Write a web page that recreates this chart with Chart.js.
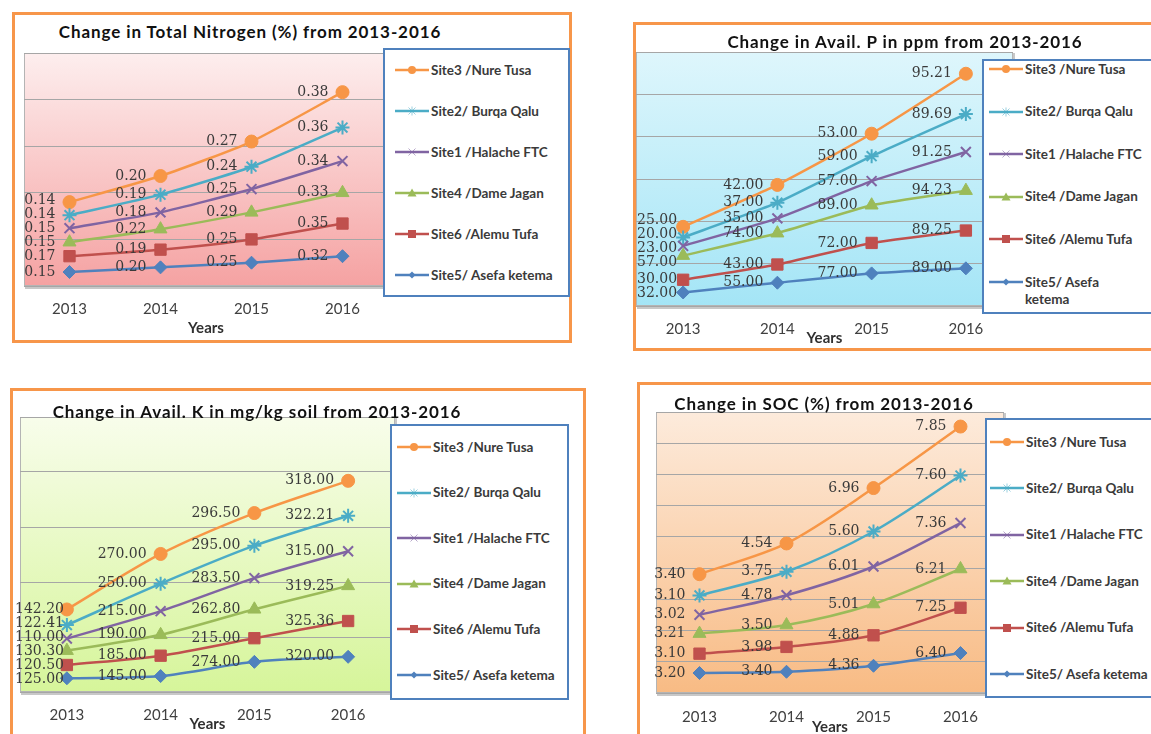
<!DOCTYPE html>
<html lang="en">
<head>
<meta charset="UTF-8" />
<title>Soil nutrient change 2013-2016</title>
<script src="https://cdn.jsdelivr.net/npm/chart.js@4.4.0/dist/chart.umd.min.js"></script>
<style>
  *{box-sizing:border-box;margin:0;padding:0}
  html,body{width:1151px;height:734px;overflow:hidden;background:#fff}
  body{position:relative;font-family:Lato,'Open Sans',sans-serif}
  .frame{position:absolute;border:3px solid #F7964A;z-index:1}
  .plotwrap{position:absolute;z-index:2}
  .title{position:absolute;z-index:4;font:bold 17px Lato,sans-serif;letter-spacing:.9px;color:#111;white-space:nowrap;transform:translate(-50%,-50%)}
  .legend{position:absolute;z-index:3;background:#fff;border:2px solid #4F81BD}
  .item{position:absolute;display:flex;align-items:flex-start;white-space:nowrap;font:bold 13.5px Lato,sans-serif;color:#3a3a3a;line-height:17px}
  .item svg{flex:0 0 auto;margin-top:2.5px;margin-right:2px}
</style>
</head>
<body>
<script>
/* data (dataset order = stacking order, bottom first) */
const years = ['2013','2014','2015','2016'];
const sites = ['Site5/ Asefa ketema','Site6 /Alemu Tufa','Site4 /Dame Jagan','Site1 /Halache FTC','Site2/ Burqa Qalu','Site3 /Nure Tusa'];

const nitrogen = [
  [0.15,0.20,0.25,0.32],
  [0.17,0.19,0.25,0.35],
  [0.15,0.22,0.29,0.33],
  [0.15,0.18,0.25,0.34],
  [0.14,0.19,0.24,0.36],
  [0.14,0.20,0.27,0.38]
];
const phosphorus = [
  [32.00,55.00,77.00,89.00],
  [30.00,43.00,72.00,89.25],
  [57.00,74.00,89.00,94.23],
  [23.00,35.00,57.00,91.25],
  [20.00,37.00,59.00,89.69],
  [25.00,42.00,53.00,95.21]
];
const potassium = [
  [125.00,145.00,274.00,320.00],
  [120.50,185.00,215.00,325.36],
  [130.30,190.00,262.80,319.25],
  [110.00,215.00,283.50,315.00],
  [122.41,250.00,295.00,322.21],
  [142.20,270.00,296.50,318.00]
];
const soc = [
  [3.20,3.40,4.36,6.40],
  [3.10,3.98,4.88,7.25],
  [3.21,3.50,5.01,6.21],
  [3.02,4.78,6.01,7.36],
  [3.10,3.75,5.60,7.60],
  [3.40,4.54,6.96,7.85]
];

const colors = ['#4F81BD','#C0504D','#9BBB59','#8064A2','#4BACC6','#F79646'];
const styles = ['rectRot','rect','triangle','crossRot','star','circle'];
const radii  = [6.5,8,7.5,7,7,6.5];

/* plot background gradient + frame */
const bgPlugin = {
  id:'bg',
  beforeDraw(chart,args,o){
    const {ctx,chartArea:a} = chart;
    const g = ctx.createLinearGradient(0,a.top,0,a.bottom);
    g.addColorStop(0,o.top); g.addColorStop(1,o.bottom);
    ctx.save();
    ctx.fillStyle = '#c8c8c8';
    ctx.fillRect(a.left+1,a.top+1,a.right-a.left+1,a.bottom-a.top+2);
    ctx.fillStyle = g;
    ctx.fillRect(a.left,a.top,a.right-a.left,a.bottom-a.top);
    ctx.strokeStyle = '#b4b4b4'; ctx.lineWidth = 1;
    ctx.strokeRect(a.left+.5,a.top+.5,a.right-a.left-1,a.bottom-a.top-1);
    ctx.restore();
  }
};

/* value labels left of each point, spread apart when they collide */
const labelPlugin = {
  id:'dl',
  afterDatasetsDraw(chart,args,o){
    const {ctx} = chart;
    ctx.save();
    ctx.font = '14px "DejaVu Serif", serif';
    ctx.fillStyle = '#3a3a3a';
    ctx.textAlign = 'right';
    ctx.textBaseline = 'middle';
    const cols = [];
    chart.data.datasets.forEach((ds,di)=>{
      chart.getDatasetMeta(di).data.forEach((pt,i)=>{
        (cols[i] = cols[i] || []).push({x:pt.x, y:pt.y, t:ds.data[i].toFixed(2)});
      });
    });
    cols.forEach(col=>{
      col.sort((a,b)=>a.y-b.y);
      for(let k=0;k<60;k++){
        let moved=false;
        for(let i=1;i<col.length;i++){
          const d = col[i].y-col[i-1].y;
          if(d<o.gap){const s=(o.gap-d)/2;col[i].y+=s;col[i-1].y-=s;moved=true;}
        }
        if(!moved) break;
      }
      col.forEach(l=>{
        const w = ctx.measureText(l.t).width;
        const x = Math.max(l.x-14, o.minX-chart.canvas.parentNode.offsetLeft+w);
        ctx.fillText(l.t,x,l.y);
      });
    });
    ctx.restore();
  }
};

function symbol(style,color){
  let m='';
  if(style==='circle') m=`<circle cx="17" cy="6" r="4" fill="${color}"/>`;
  if(style==='rect') m=`<rect x="13" y="2" width="8" height="8" fill="${color}"/>`;
  if(style==='triangle') m=`<polygon points="17,1.5 21.5,9.5 12.5,9.5" fill="${color}"/>`;
  if(style==='rectRot') m=`<polygon points="17,2.5 20.5,6 17,9.5 13.5,6" fill="${color}"/>`;
  if(style==='crossRot') m=`<path d="M13.5,2.5L20.5,9.5M20.5,2.5L13.5,9.5" stroke="${color}" stroke-width="1" opacity=".55"/>`;
  if(style==='star') m=`<path d="M13.5,2.5L20.5,9.5M20.5,2.5L13.5,9.5M17,1.5V10.5" stroke="${color}" stroke-width="1" opacity=".55"/>`;
  return `<svg width="34" height="12"><line x1="0" y1="6" x2="34" y2="6" stroke="${color}" stroke-width="2.5"/>${m}</svg>`;
}

function box(cls,l,t,r,b){
  const d=document.createElement('div');d.className=cls;
  d.style.cssText=`left:${l}px;top:${t}px;width:${r-l}px;height:${b-t}px`;
  document.body.appendChild(d);return d;
}

function makeChart(c){
  box('frame',...c.frame);
  const t=document.createElement('div');t.className='title';t.textContent=c.title;
  t.style.left=c.titleAt[0]+'px';t.style.top=c.titleAt[1]+'px';document.body.appendChild(t);

  const lg=box('legend',...c.legend.box);
  for(let i=sites.length-1,n=0;i>=0;i--,n++){
    const it=document.createElement('div');it.className='item';
    it.style.left=(c.legend.x-c.legend.box[0]-2)+'px';
    it.style.top=(c.legend.y0+n*c.legend.dy-c.legend.box[1]-2-8.5)+'px';
    const label = (i===0 && c.legend.wrapLast) ? 'Site5/ Asefa<br>ketema' : sites[i];
    it.innerHTML=symbol(styles[i],colors[i])+'<span>'+label+'</span>';
    lg.appendChild(it);
  }

  const [pl,pt,pr,pb]=c.plot, padL=20,padR=20,padT=10;
  // canvas height from the wanted tick/“Years” placement; the scale itself
  // comes out ~15px taller than the sum, so the title padding is pulled in by that much
  const xh=c.tickPad+18+18+c.yearsPad;
  const wrap=box('plotwrap',pl-padL,pt-padT,pr+padR,pb+xh);
  const cv=document.createElement('canvas');wrap.appendChild(cv);

  new Chart(cv,{
    type:'line',
    data:{labels:years,datasets:sites.map((s,i)=>({
      label:s,data:c.values[i],borderColor:colors[i],backgroundColor:colors[i],
      pointBackgroundColor:colors[i],pointBorderColor:colors[i],pointStyle:styles[i],
      pointRadius:radii[i],pointBorderWidth:(styles[i]==='star'||styles[i]==='crossRot')?2:1,
      borderWidth:2.5,tension:c.tension,fill:false,clip:false
    }))},
    options:{
      responsive:true,maintainAspectRatio:false,animation:false,
      layout:{padding:{left:padL,right:padR,top:padT,bottom:0}},
      plugins:{legend:{display:false},tooltip:{enabled:false},
        bg:{top:c.bg[0],bottom:c.bg[1]},dl:{gap:14,minX:c.minX}},
      scales:{
        x:{offset:true,grid:{display:false,drawTicks:false},border:{display:false},
          ticks:{padding:c.tickPad,color:'#404040',font:{family:'Lato',size:15}},
          title:{display:true,text:'Years',padding:{top:c.yearsPad-15,bottom:0},color:'#303030',
            font:{family:'Lato',size:15,weight:'bold'}}},
        y:{stacked:true,min:0,max:c.max,ticks:{display:false,stepSize:c.step},
          grid:{color:'#a6a6a6',drawTicks:false},border:{display:false}}
      }
    },
    plugins:[bgPlugin,labelPlugin]
  });
}

makeChart({title:'Change in Total Nitrogen (%) from 2013-2016',titleAt:[250,31],
  frame:[12,12,572,343],plot:[23.5,53,387.5,285],values:nitrogen,max:2.5,step:0.5,
  tickPad:14,yearsPad:2,tension:0.2,minX:22,bg:['#fdeeee','#f5a2a2'],
  legend:{box:[383,48,570,297],x:395,y0:70,dy:41}});

makeChart({title:'Change in Avail. P in ppm from 2013-2016',titleAt:[905,41],
  frame:[633,22,1165,351],plot:[636,52,1013,305],values:phosphorus,max:600,step:100,
  tickPad:14,yearsPad:-8,tension:0.15,minX:637,bg:['#def6fc','#a4e5f6'],
  legend:{box:[982,59,1165,314],x:989,y0:69,dy:42.6,wrapLast:true}});

makeChart({title:'Change in Avail. K in mg/kg soil from 2013-2016',titleAt:[257,411],
  frame:[10,388,586,745],plot:[20,417,395,691],values:potassium,max:2500,step:500,
  tickPad:14,yearsPad:-8,tension:0.3,minX:15,bg:['#f8fdeb','#d6f59a'],
  legend:{box:[390,424,569,700],x:397,y0:447,dy:45.6}});

makeChart({title:'Change in SOC (%) from 2013-2016',titleAt:[824,403],
  frame:[637,382,1165,745],plot:[655.5,412,1003.5,693],values:soc,max:45,step:5,
  tickPad:15,yearsPad:-8,tension:0.3,minX:650,bg:['#fdebdc','#f8bb84'],
  legend:{box:[985,418,1165,698],x:990,y0:442,dy:46.4}});
</script>
</body>
</html>
